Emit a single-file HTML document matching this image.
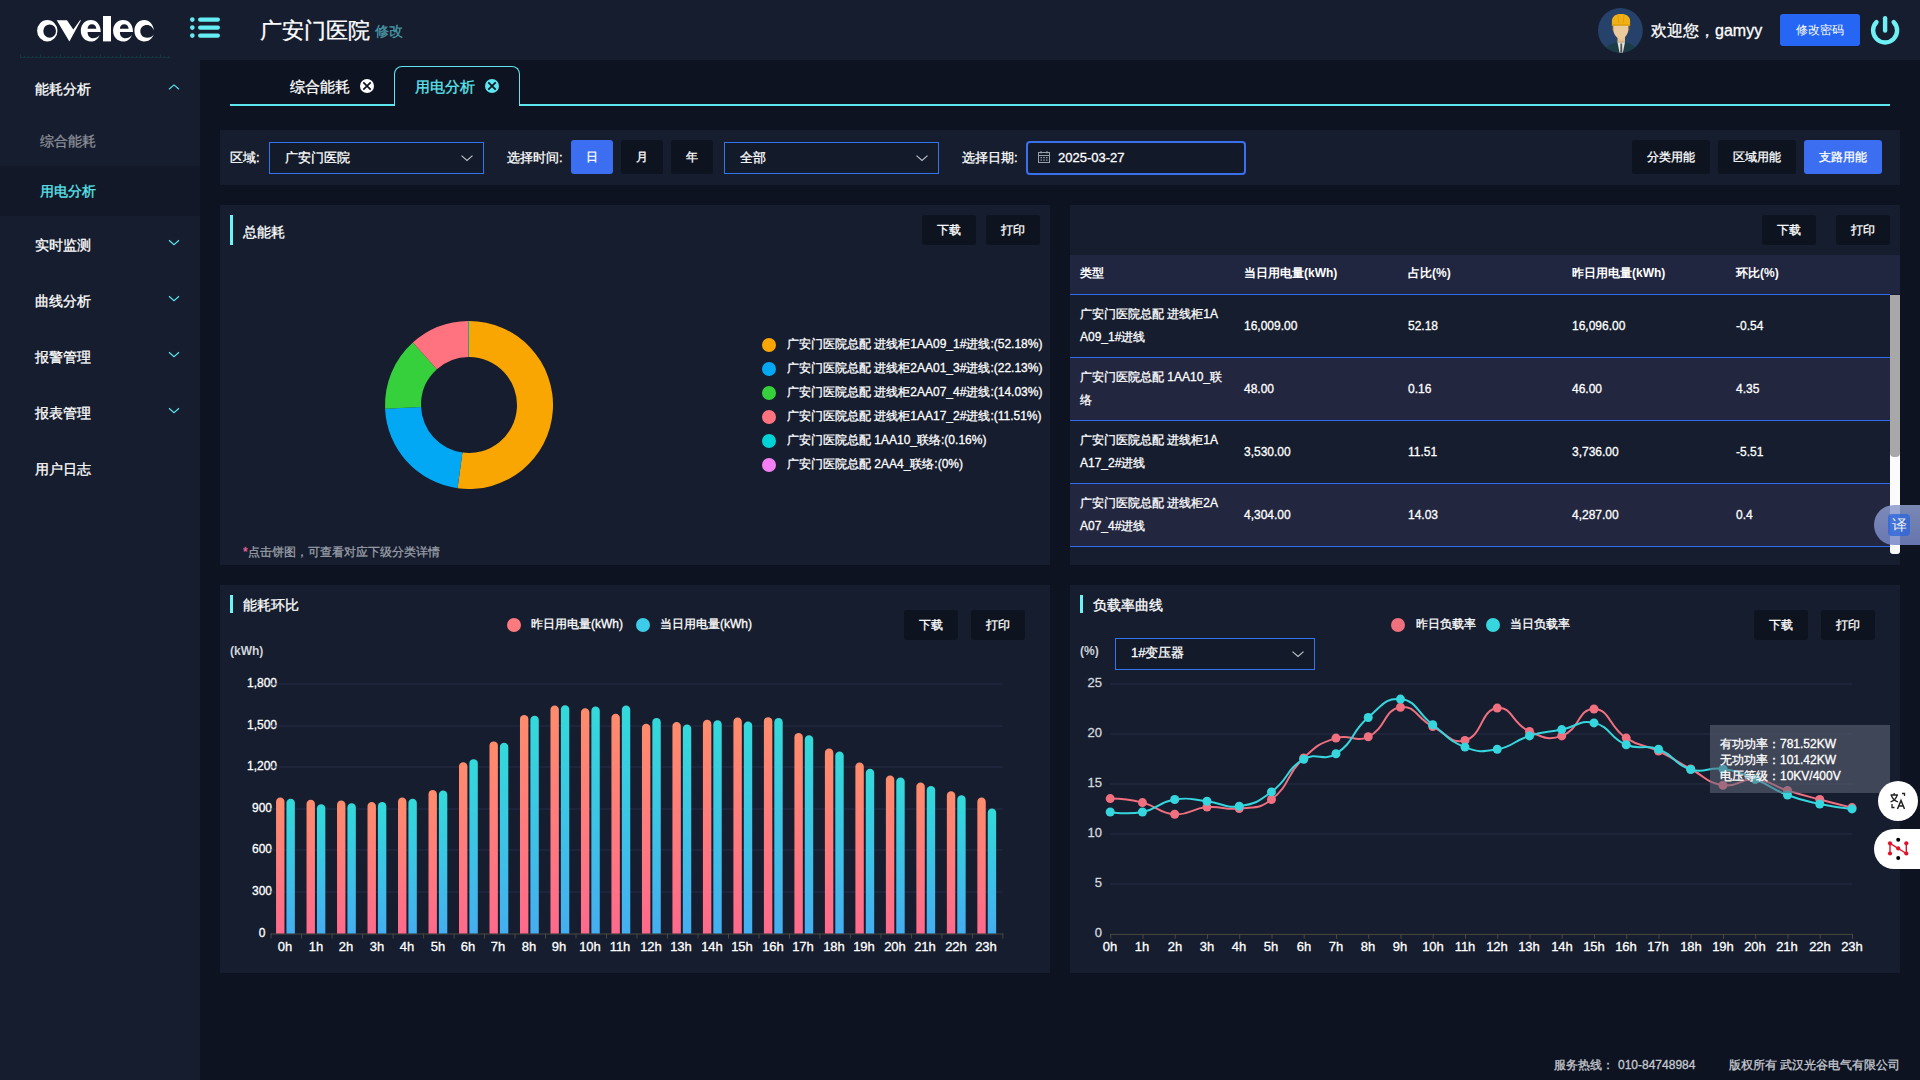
<!DOCTYPE html><html><head><meta charset="utf-8"><style>
*{margin:0;padding:0;box-sizing:border-box}
html,body{width:1920px;height:1080px;overflow:hidden;background:#0d1321;font-family:"Liberation Sans",sans-serif;color:#fff}
.t,.btn{-webkit-text-stroke:0.3px currentColor}
.a{position:absolute}
.t{position:absolute;white-space:nowrap;line-height:1}
.btn{position:absolute;background:#0e1320;border-radius:3px;color:#fff;font-size:12px;display:flex;align-items:center;justify-content:center}
.sel{position:absolute;border:1px solid #3474ee;background:#131a2a}
.panel{position:absolute;background:#151d2e}
</style></head><body>

<div class="a" style="left:0;top:0;width:1920px;height:60px;background:#161d2e"></div>
<div class="a" style="left:0;top:60px;width:200px;height:1020px;background:#161d2e"></div>
<svg class="a" style="left:30px;top:10px" width="140" height="40" viewBox="30 10 140 40">
<g fill="#fff" fill-rule="evenodd">
<path d="M47.3 20 A10.2 10.7 0 1 0 47.3 41.4 A10.2 10.7 0 1 0 47.3 20 Z M49.65 24.4 A6.35 6.65 0 1 1 49.65 37.7 A6.35 6.65 0 1 1 49.65 24.4 Z"/>
<path d="M56.7 20.3 L67 20.3 L73.3 29.5 L80 20.3 L81 20.3 L69.4 41.4 Z"/>
<path d="M99.6 34.9 C98 39.3 94.5 41.5 90.8 41.5 C85 41.5 80.8 36.8 80.8 30.8 C80.8 24.8 85 20.1 90.8 20.1 C96.7 20.1 100.7 24.8 100.7 31.9 L87.6 31.9 C87.6 35.8 89.8 38.2 93 38.2 C95.6 38.2 97.8 37 99.6 34.9 Z M87.6 28.8 C87.6 26 89.4 24.2 91.95 24.2 C94.5 24.2 96.3 26 96.3 28.8 Z"/>
<rect x="103" y="16" width="8" height="25.4"/>
<path transform="translate(32.3 0)" d="M99.6 34.9 C98 39.3 94.5 41.5 90.8 41.5 C85 41.5 80.8 36.8 80.8 30.8 C80.8 24.8 85 20.1 90.8 20.1 C96.7 20.1 100.7 24.8 100.7 31.9 L87.6 31.9 C87.6 35.8 89.8 38.2 93 38.2 C95.6 38.2 97.8 37 99.6 34.9 Z M87.6 28.8 C87.6 26 89.4 24.2 91.95 24.2 C94.5 24.2 96.3 26 96.3 28.8 Z"/>
<path d="M153.9 30.6 C153.4 24.3 149.4 20.1 144.2 20.1 C138.6 20.1 134.4 24.8 134.4 30.8 C134.4 36.8 138.6 41.5 144.2 41.5 C148.6 41.5 152.5 38.7 153.6 34.5 C152.3 36.6 150 37.8 147.2 37.8 C143.2 37.8 140.3 35 140.3 31.3 C140.3 27.6 143.2 24.9 147 24.9 C150.3 24.9 153 27.2 153.9 30.6 Z"/>
</g></svg>
<svg class="a" style="left:0;top:50px" width="180" height="10" viewBox="0 50 180 10"><g fill="#15343e"><rect x="20" y="57" width="150" height="1"/><rect x="20.0" y="54" width="1" height="3"/><rect x="24.0" y="56" width="1" height="1"/><rect x="28.0" y="56" width="1" height="1"/><rect x="32.0" y="56" width="1" height="1"/><rect x="36.0" y="56" width="1" height="1"/><rect x="40.0" y="54" width="1" height="3"/><rect x="44.0" y="56" width="1" height="1"/><rect x="48.0" y="56" width="1" height="1"/><rect x="52.0" y="56" width="1" height="1"/><rect x="56.0" y="56" width="1" height="1"/><rect x="60.0" y="54" width="1" height="3"/><rect x="64.0" y="56" width="1" height="1"/><rect x="68.0" y="56" width="1" height="1"/><rect x="72.0" y="56" width="1" height="1"/><rect x="76.0" y="56" width="1" height="1"/><rect x="80.0" y="54" width="1" height="3"/><rect x="84.0" y="56" width="1" height="1"/><rect x="88.0" y="56" width="1" height="1"/><rect x="92.0" y="56" width="1" height="1"/><rect x="96.0" y="56" width="1" height="1"/><rect x="100.0" y="54" width="1" height="3"/><rect x="104.0" y="56" width="1" height="1"/><rect x="108.0" y="56" width="1" height="1"/><rect x="112.0" y="56" width="1" height="1"/><rect x="116.0" y="56" width="1" height="1"/><rect x="120.0" y="54" width="1" height="3"/><rect x="124.0" y="56" width="1" height="1"/><rect x="128.0" y="56" width="1" height="1"/><rect x="132.0" y="56" width="1" height="1"/><rect x="136.0" y="56" width="1" height="1"/><rect x="140.0" y="54" width="1" height="3"/><rect x="144.0" y="56" width="1" height="1"/><rect x="148.0" y="56" width="1" height="1"/><rect x="152.0" y="56" width="1" height="1"/><rect x="156.0" y="56" width="1" height="1"/><rect x="160.0" y="54" width="1" height="3"/><rect x="164.0" y="56" width="1" height="1"/><rect x="168.0" y="56" width="1" height="1"/></g></svg>
<svg class="a" style="left:188px;top:16px" width="36" height="24" viewBox="188 16 36 24"><g fill="#64edf3">
<circle cx="192.3" cy="19.6" r="2.3"/><circle cx="192.3" cy="27.6" r="2.3"/><circle cx="192.3" cy="35.6" r="2.3"/>
<rect x="198" y="17.4" width="22" height="4.4" rx="2.2"/><rect x="198" y="25.4" width="22" height="4.4" rx="2.2"/><rect x="198" y="33.4" width="22" height="4.4" rx="2.2"/>
</g></svg>
<div class="t" style="left:260px;top:20px;font-size:22px;color:#fff">广安门医院</div>
<div class="t" style="left:375px;top:24px;font-size:14px;color:#4a9ba8">修改</div>
<svg class="a" style="left:1597px;top:8px" width="46" height="46" viewBox="0 0 46 46">
<defs><clipPath id="avc"><circle cx="23.4" cy="22.4" r="22.4"/></clipPath></defs>
<circle cx="23.4" cy="22.4" r="22.4" fill="#26426a"/>
<g clip-path="url(#avc)">
<path d="M2 46 C6 39 14 35.5 20.5 34.2 L28 34.2 C34 35.5 41 39 45 46 Z" fill="#1c3d48"/>
<path d="M20.5 34.2 L28 34.2 L25.6 46 L22.8 46 Z" fill="#e4e4e4"/>
<path d="M23.4 35.5 L25.1 35.5 L25.3 46 L23.2 46 Z" fill="#58534a"/>
<rect x="20.5" y="29" width="7.5" height="5.4" fill="#e6c592"/>
<path d="M20.5 33.4 L28 33.4" stroke="#c9a878" stroke-width="0.6"/>
<rect x="15" y="17.5" width="2" height="5" fill="#6a5a46"/><rect x="30.6" y="17.5" width="2" height="5" fill="#6a5a46"/>
<path d="M16.3 17.3 L31.3 17.3 L31.3 22 C31.3 26 27.5 30.9 23.8 30.9 C20 30.9 16.3 26 16.3 22 Z" fill="#ebcb9c"/>
<path d="M14.9 17.6 L14.9 13 C14.9 8.5 18.5 5.9 24 5.9 C29.5 5.9 33.1 8.5 33.1 13 L33.1 17.6 Z" fill="#f0b016"/>
<path d="M21 6.6 L21.8 15 M27 6.6 L26.2 15" stroke="#dc9c0a" stroke-width="0.8" fill="none"/>
<rect x="14.9" y="16" width="18.2" height="1.6" fill="#e2a20c"/>
</g></svg>
<div class="t" style="left:1651px;top:23px;font-size:16px;color:#fff">欢迎您，gamyy</div>
<div class="a" style="left:1780px;top:14px;width:80px;height:32px;background:#2566f5;border-radius:3px;color:#fff;font-size:12px;display:flex;align-items:center;justify-content:center">修改密码</div>
<svg class="a" style="left:1866px;top:10px" width="38" height="40" viewBox="1866 10 38 40"><g fill="none" stroke="#6ef0f4" stroke-width="4.4" stroke-linecap="round">
<path d="M1876.5 22.1 A12 12 0 1 0 1893.7 22.1"/><path d="M1885.1 18.2 L1885.1 30.6"/></g></svg>
<div class="a" style="left:0;top:166px;width:200px;height:50px;background:#121828"></div>
<div class="t" style="left:35px;top:82px;font-size:14px;color:#fff">能耗分析</div>
<svg class="a" style="left:166px;top:82px" width="16" height="10" viewBox="0 0 16 10"><path d="M3 7.3 L8 2.9 L13 7.3" fill="none" stroke="#5ee6ee" stroke-width="1.15"/></svg>
<div class="t" style="left:40px;top:134px;font-size:14px;color:#8c9099">综合能耗</div>
<div class="t" style="left:40px;top:184px;font-size:14px;color:#5ee6ee">用电分析</div>
<div class="t" style="left:35px;top:238px;font-size:14px;color:#fff">实时监测</div>
<svg class="a" style="left:166px;top:237px" width="16" height="10" viewBox="0 0 16 10"><path d="M3 3.2 L8 7.7 L13 3.2" fill="none" stroke="#5ee6ee" stroke-width="1.15"/></svg>
<div class="t" style="left:35px;top:294px;font-size:14px;color:#fff">曲线分析</div>
<svg class="a" style="left:166px;top:293px" width="16" height="10" viewBox="0 0 16 10"><path d="M3 3.2 L8 7.7 L13 3.2" fill="none" stroke="#5ee6ee" stroke-width="1.15"/></svg>
<div class="t" style="left:35px;top:350px;font-size:14px;color:#fff">报警管理</div>
<svg class="a" style="left:166px;top:349px" width="16" height="10" viewBox="0 0 16 10"><path d="M3 3.2 L8 7.7 L13 3.2" fill="none" stroke="#5ee6ee" stroke-width="1.15"/></svg>
<div class="t" style="left:35px;top:406px;font-size:14px;color:#fff">报表管理</div>
<svg class="a" style="left:166px;top:405px" width="16" height="10" viewBox="0 0 16 10"><path d="M3 3.2 L8 7.7 L13 3.2" fill="none" stroke="#5ee6ee" stroke-width="1.15"/></svg>
<div class="t" style="left:35px;top:462px;font-size:14px;color:#fff">用户日志</div>
<div class="a" style="left:230px;top:104px;width:165px;height:2px;background:#5ee6ee"></div>
<div class="a" style="left:519px;top:104px;width:1371px;height:2px;background:#5ee6ee"></div>
<div class="a" style="left:394px;top:66px;width:126px;height:40px;border:1.5px solid #5ee6ee;border-bottom:none;border-radius:8px 8px 0 0;background:#0d1321"></div>
<div class="t" style="left:290px;top:79px;font-size:15px;color:#fff">综合能耗</div>
<svg class="a" style="left:359px;top:78px" width="16" height="16" viewBox="0 0 16 16"><circle cx="8" cy="8" r="7" fill="#fff"/><path d="M4.3 4.3 L11.7 11.7 M11.7 4.3 L4.3 11.7" stroke="#0d1321" stroke-width="1.7"/></svg>
<div class="t" style="left:415px;top:79px;font-size:15px;color:#5ee6ee">用电分析</div>
<svg class="a" style="left:484px;top:78px" width="16" height="16" viewBox="0 0 16 16"><circle cx="8" cy="8" r="7" fill="#5ee6ee"/><path d="M4.3 4.3 L11.7 11.7 M11.7 4.3 L4.3 11.7" stroke="#0d1321" stroke-width="1.7"/></svg>
<div class="panel" style="left:220px;top:130px;width:1680px;height:55px"></div>
<div class="t" style="left:230px;top:151px;font-size:13px;color:#fff">区域:</div>
<div class="sel" style="left:269px;top:142px;width:215px;height:32px"></div>
<div class="t" style="left:285px;top:151px;font-size:13px;color:#fff">广安门医院</div>
<svg class="a" style="left:459px;top:153px" width="15" height="9" viewBox="0 0 15 9"><path d="M2.5 2.6 L8 7.4 L13.5 2.6" fill="none" stroke="#c0c4cc" stroke-width="1.1"/></svg>
<div class="t" style="left:507px;top:151px;font-size:13px;color:#fff">选择时间:</div>
<div class="btn" style="left:571px;top:140px;width:42px;height:34px;background:#3b6ef0;font-size:12px">日</div>
<div class="btn" style="left:621px;top:140px;width:42px;height:34px;background:#0e1320;font-size:12px">月</div>
<div class="btn" style="left:671px;top:140px;width:42px;height:34px;background:#0e1320;font-size:12px">年</div>
<div class="sel" style="left:724px;top:142px;width:215px;height:32px"></div>
<div class="t" style="left:740px;top:151px;font-size:13px;color:#fff">全部</div>
<svg class="a" style="left:914px;top:153px" width="15" height="9" viewBox="0 0 15 9"><path d="M2.5 2.6 L8 7.4 L13.5 2.6" fill="none" stroke="#c0c4cc" stroke-width="1.1"/></svg>
<div class="t" style="left:962px;top:151px;font-size:13px;color:#fff">选择日期:</div>
<div class="a" style="left:1026px;top:141px;width:220px;height:34px;border:2px solid #3a70ee;border-radius:4px;background:#121929"></div>
<svg class="a" style="left:1037px;top:150px" width="14" height="14" viewBox="0 0 14 14"><g fill="none" stroke="#9aa0aa" stroke-width="1"><rect x="1.5" y="2.5" width="11" height="10"/><path d="M1.5 5.5 H12.5 M4 1 V3.5 M10 1 V3.5"/></g><g fill="#9aa0aa"><rect x="3.5" y="7" width="1.5" height="1.2"/><rect x="6.3" y="7" width="1.5" height="1.2"/><rect x="9" y="7" width="1.5" height="1.2"/><rect x="3.5" y="9.5" width="1.5" height="1.2"/><rect x="6.3" y="9.5" width="1.5" height="1.2"/><rect x="9" y="9.5" width="1.5" height="1.2"/></g></svg>
<div class="t" style="left:1058px;top:151px;font-size:13px;color:#fff">2025-03-27</div>
<div class="btn" style="left:1632px;top:140px;width:78px;height:34px;background:#0e1320;font-size:12px">分类用能</div>
<div class="btn" style="left:1718px;top:140px;width:78px;height:34px;background:#0e1320;font-size:12px">区域用能</div>
<div class="btn" style="left:1804px;top:140px;width:78px;height:34px;background:#3b6ef0;font-size:12px">支路用能</div>
<div class="panel" style="left:220px;top:205px;width:830px;height:360px"></div>
<div class="panel" style="left:1070px;top:205px;width:830px;height:360px"></div>
<div class="panel" style="left:220px;top:585px;width:830px;height:388px"></div>
<div class="panel" style="left:1070px;top:585px;width:830px;height:388px"></div>
<div class="a" style="left:230px;top:215px;width:3px;height:30px;background:#6ef2f6"></div>
<div class="t" style="left:243px;top:225px;font-size:14px;color:#fff">总能耗</div>
<div class="btn" style="left:922px;top:215px;width:54px;height:30px;background:#0e1320;font-size:12px">下载</div>
<div class="btn" style="left:986px;top:215px;width:54px;height:30px;background:#0e1320;font-size:12px">打印</div>
<svg class="a" style="left:0;top:0" width="1920" height="1080" viewBox="0 0 1920 1080"><path d="M469.00 321.00 A84 84 0 1 1 457.53 488.21 L462.45 452.55 A48 48 0 1 0 469.00 357.00 Z" fill="#f9a602"/><path d="M457.53 488.21 A84 84 0 0 1 385.08 408.64 L421.05 407.08 A48 48 0 0 0 462.45 452.55 Z" fill="#03a8f4"/><path d="M385.08 408.64 A84 84 0 0 1 412.82 342.55 L436.90 369.32 A48 48 0 0 0 421.05 407.08 Z" fill="#36d03d"/><path d="M412.82 342.55 A84 84 0 0 1 468.21 321.00 L468.55 357.00 A48 48 0 0 0 436.90 369.32 Z" fill="#ff7380"/><path d="M468.21 321.00 A84 84 0 0 1 469.05 321.00 L469.03 357.00 A48 48 0 0 0 468.55 357.00 Z" fill="#00d2d6"/></svg>
<div class="a" style="left:762px;top:338px;width:14px;height:14px;border-radius:50%;background:#f9a602"></div>
<div class="t" style="left:787px;top:338px;font-size:12px;color:#fff">广安门医院总配 进线柜1AA09_1#进线:(52.18%)</div>
<div class="a" style="left:762px;top:362px;width:14px;height:14px;border-radius:50%;background:#03a8f4"></div>
<div class="t" style="left:787px;top:362px;font-size:12px;color:#fff">广安门医院总配 进线柜2AA01_3#进线:(22.13%)</div>
<div class="a" style="left:762px;top:386px;width:14px;height:14px;border-radius:50%;background:#36d03d"></div>
<div class="t" style="left:787px;top:386px;font-size:12px;color:#fff">广安门医院总配 进线柜2AA07_4#进线:(14.03%)</div>
<div class="a" style="left:762px;top:410px;width:14px;height:14px;border-radius:50%;background:#ff7380"></div>
<div class="t" style="left:787px;top:410px;font-size:12px;color:#fff">广安门医院总配 进线柜1AA17_2#进线:(11.51%)</div>
<div class="a" style="left:762px;top:434px;width:14px;height:14px;border-radius:50%;background:#00d2d6"></div>
<div class="t" style="left:787px;top:434px;font-size:12px;color:#fff">广安门医院总配 1AA10_联络:(0.16%)</div>
<div class="a" style="left:762px;top:458px;width:14px;height:14px;border-radius:50%;background:#f47ff4"></div>
<div class="t" style="left:787px;top:458px;font-size:12px;color:#fff">广安门医院总配 2AA4_联络:(0%)</div>
<div class="t" style="left:243px;top:546px;font-size:12px;color:#9a9ea8"><span style="color:#f0649a">*</span>点击饼图，可查看对应下级分类详情</div>
<div class="btn" style="left:1762px;top:215px;width:54px;height:30px;background:#0e1320;font-size:12px">下载</div>
<div class="btn" style="left:1836px;top:215px;width:54px;height:30px;background:#0e1320;font-size:12px">打印</div>
<div class="a" style="left:1070px;top:255px;width:830px;height:39px;background:#20263f"></div>
<div class="t" style="left:1080px;top:267px;font-size:12px;font-weight:bold;-webkit-text-stroke:0;color:#fff">类型</div>
<div class="t" style="left:1244px;top:267px;font-size:12px;font-weight:bold;-webkit-text-stroke:0;color:#fff">当日用电量(kWh)</div>
<div class="t" style="left:1408px;top:267px;font-size:12px;font-weight:bold;-webkit-text-stroke:0;color:#fff">占比(%)</div>
<div class="t" style="left:1572px;top:267px;font-size:12px;font-weight:bold;-webkit-text-stroke:0;color:#fff">昨日用电量(kWh)</div>
<div class="t" style="left:1736px;top:267px;font-size:12px;font-weight:bold;-webkit-text-stroke:0;color:#fff">环比(%)</div>
<div class="a" style="left:1070px;top:294px;width:820px;height:1px;background:#306cf0"></div>
<div class="a" style="left:1070px;top:295px;width:820px;height:62px;background:#151d2e"></div>
<div class="a" style="left:1070px;top:357px;width:820px;height:1px;background:#306cf0"></div>
<div class="t" style="left:1080px;top:308px;font-size:12px;color:#fff">广安门医院总配 进线柜1A</div>
<div class="t" style="left:1080px;top:331px;font-size:12px;color:#fff">A09_1#进线</div>
<div class="t" style="left:1244px;top:320px;font-size:12px;color:#fff">16,009.00</div>
<div class="t" style="left:1408px;top:320px;font-size:12px;color:#fff">52.18</div>
<div class="t" style="left:1572px;top:320px;font-size:12px;color:#fff">16,096.00</div>
<div class="t" style="left:1736px;top:320px;font-size:12px;color:#fff">-0.54</div>
<div class="a" style="left:1070px;top:358px;width:820px;height:62px;background:#22263f"></div>
<div class="a" style="left:1070px;top:420px;width:820px;height:1px;background:#306cf0"></div>
<div class="t" style="left:1080px;top:371px;font-size:12px;color:#fff">广安门医院总配 1AA10_联</div>
<div class="t" style="left:1080px;top:394px;font-size:12px;color:#fff">络</div>
<div class="t" style="left:1244px;top:383px;font-size:12px;color:#fff">48.00</div>
<div class="t" style="left:1408px;top:383px;font-size:12px;color:#fff">0.16</div>
<div class="t" style="left:1572px;top:383px;font-size:12px;color:#fff">46.00</div>
<div class="t" style="left:1736px;top:383px;font-size:12px;color:#fff">4.35</div>
<div class="a" style="left:1070px;top:421px;width:820px;height:62px;background:#151d2e"></div>
<div class="a" style="left:1070px;top:483px;width:820px;height:1px;background:#306cf0"></div>
<div class="t" style="left:1080px;top:434px;font-size:12px;color:#fff">广安门医院总配 进线柜1A</div>
<div class="t" style="left:1080px;top:457px;font-size:12px;color:#fff">A17_2#进线</div>
<div class="t" style="left:1244px;top:446px;font-size:12px;color:#fff">3,530.00</div>
<div class="t" style="left:1408px;top:446px;font-size:12px;color:#fff">11.51</div>
<div class="t" style="left:1572px;top:446px;font-size:12px;color:#fff">3,736.00</div>
<div class="t" style="left:1736px;top:446px;font-size:12px;color:#fff">-5.51</div>
<div class="a" style="left:1070px;top:484px;width:820px;height:62px;background:#22263f"></div>
<div class="a" style="left:1070px;top:546px;width:820px;height:1px;background:#306cf0"></div>
<div class="t" style="left:1080px;top:497px;font-size:12px;color:#fff">广安门医院总配 进线柜2A</div>
<div class="t" style="left:1080px;top:520px;font-size:12px;color:#fff">A07_4#进线</div>
<div class="t" style="left:1244px;top:509px;font-size:12px;color:#fff">4,304.00</div>
<div class="t" style="left:1408px;top:509px;font-size:12px;color:#fff">14.03</div>
<div class="t" style="left:1572px;top:509px;font-size:12px;color:#fff">4,287.00</div>
<div class="t" style="left:1736px;top:509px;font-size:12px;color:#fff">0.4</div>
<div class="a" style="left:1890px;top:295px;width:10px;height:259px;background:#fbfbfb;border-radius:0 0 3px 3px"></div>
<div class="a" style="left:1890px;top:295px;width:10px;height:162px;background:#a8a8a8;border-radius:0 0 4px 4px"></div>
<div class="a" style="left:1874px;top:505px;width:50px;height:40px;border-radius:20px 0 0 20px;background:linear-gradient(#8c9ccc,#7686c8);opacity:0.85"></div>
<div class="a" style="left:1888px;top:514px;width:22px;height:22px;border-radius:4px;background:rgba(40,100,220,0.75);color:#eee;font-size:15px;display:flex;align-items:center;justify-content:center">译</div>
<div class="a" style="left:230px;top:595px;width:3px;height:18px;background:#6ef2f6"></div>
<div class="t" style="left:243px;top:598px;font-size:14px;color:#fff">能耗环比</div>
<div class="a" style="left:507px;top:618px;width:14px;height:14px;border-radius:50%;background:#ff7a7e"></div>
<div class="t" style="left:531px;top:618px;font-size:12px;color:#fff">昨日用电量(kWh)</div>
<div class="a" style="left:636px;top:618px;width:14px;height:14px;border-radius:50%;background:#3ccbe8"></div>
<div class="t" style="left:660px;top:618px;font-size:12px;color:#fff">当日用电量(kWh)</div>
<div class="btn" style="left:904px;top:610px;width:54px;height:30px;background:#0e1320;font-size:12px">下载</div>
<div class="btn" style="left:971px;top:610px;width:54px;height:30px;background:#0e1320;font-size:12px">打印</div>
<div class="t" style="left:230px;top:645px;font-size:12px;font-weight:bold;-webkit-text-stroke:0;color:#d0d3da">(kWh)</div>
<div class="t" style="left:222px;width:80px;text-align:center;top:677px;font-size:12px;color:#fff">1,800</div>
<div class="t" style="left:222px;width:80px;text-align:center;top:719px;font-size:12px;color:#fff">1,500</div>
<div class="t" style="left:222px;width:80px;text-align:center;top:760px;font-size:12px;color:#fff">1,200</div>
<div class="t" style="left:222px;width:80px;text-align:center;top:802px;font-size:12px;color:#fff">900</div>
<div class="t" style="left:222px;width:80px;text-align:center;top:843px;font-size:12px;color:#fff">600</div>
<div class="t" style="left:222px;width:80px;text-align:center;top:885px;font-size:12px;color:#fff">300</div>
<div class="t" style="left:222px;width:80px;text-align:center;top:927px;font-size:12px;color:#fff">0</div>
<div class="t" style="left:265px;width:40px;text-align:center;top:940px;font-size:13px;color:#fff">0h</div>
<div class="t" style="left:296px;width:40px;text-align:center;top:940px;font-size:13px;color:#fff">1h</div>
<div class="t" style="left:326px;width:40px;text-align:center;top:940px;font-size:13px;color:#fff">2h</div>
<div class="t" style="left:357px;width:40px;text-align:center;top:940px;font-size:13px;color:#fff">3h</div>
<div class="t" style="left:387px;width:40px;text-align:center;top:940px;font-size:13px;color:#fff">4h</div>
<div class="t" style="left:418px;width:40px;text-align:center;top:940px;font-size:13px;color:#fff">5h</div>
<div class="t" style="left:448px;width:40px;text-align:center;top:940px;font-size:13px;color:#fff">6h</div>
<div class="t" style="left:478px;width:40px;text-align:center;top:940px;font-size:13px;color:#fff">7h</div>
<div class="t" style="left:509px;width:40px;text-align:center;top:940px;font-size:13px;color:#fff">8h</div>
<div class="t" style="left:539px;width:40px;text-align:center;top:940px;font-size:13px;color:#fff">9h</div>
<div class="t" style="left:570px;width:40px;text-align:center;top:940px;font-size:13px;color:#fff">10h</div>
<div class="t" style="left:600px;width:40px;text-align:center;top:940px;font-size:13px;color:#fff">11h</div>
<div class="t" style="left:631px;width:40px;text-align:center;top:940px;font-size:13px;color:#fff">12h</div>
<div class="t" style="left:661px;width:40px;text-align:center;top:940px;font-size:13px;color:#fff">13h</div>
<div class="t" style="left:692px;width:40px;text-align:center;top:940px;font-size:13px;color:#fff">14h</div>
<div class="t" style="left:722px;width:40px;text-align:center;top:940px;font-size:13px;color:#fff">15h</div>
<div class="t" style="left:753px;width:40px;text-align:center;top:940px;font-size:13px;color:#fff">16h</div>
<div class="t" style="left:783px;width:40px;text-align:center;top:940px;font-size:13px;color:#fff">17h</div>
<div class="t" style="left:814px;width:40px;text-align:center;top:940px;font-size:13px;color:#fff">18h</div>
<div class="t" style="left:844px;width:40px;text-align:center;top:940px;font-size:13px;color:#fff">19h</div>
<div class="t" style="left:875px;width:40px;text-align:center;top:940px;font-size:13px;color:#fff">20h</div>
<div class="t" style="left:905px;width:40px;text-align:center;top:940px;font-size:13px;color:#fff">21h</div>
<div class="t" style="left:936px;width:40px;text-align:center;top:940px;font-size:13px;color:#fff">22h</div>
<div class="t" style="left:966px;width:40px;text-align:center;top:940px;font-size:13px;color:#fff">23h</div>
<svg class="a" style="left:0;top:0" width="1920" height="1080" viewBox="0 0 1920 1080"><defs><linearGradient id="gp" x1="0" y1="0" x2="0" y2="1"><stop offset="0" stop-color="#ff8c6c"/><stop offset="1" stop-color="#ff6a8c"/></linearGradient><linearGradient id="gc" x1="0" y1="0" x2="0" y2="1"><stop offset="0" stop-color="#33dada"/><stop offset="1" stop-color="#45aef0"/></linearGradient></defs><rect x="270.6" y="683.5" width="731.8" height="1" fill="#282e48"/><rect x="270.6" y="725.5" width="731.8" height="1" fill="#282e48"/><rect x="270.6" y="766.5" width="731.8" height="1" fill="#282e48"/><rect x="270.6" y="808.5" width="731.8" height="1" fill="#282e48"/><rect x="270.6" y="849.5" width="731.8" height="1" fill="#282e48"/><rect x="270.6" y="891.5" width="731.8" height="1" fill="#282e48"/><rect x="270.6" y="933.5" width="732.8" height="1" fill="#4a4940"/><rect x="1002.4" y="933.5" width="1" height="5" fill="#4a4940"/><path d="M276.05 933.50 L276.05 801.72 A4.2 4.2 0 0 1 284.45 801.72 L284.45 933.50 Z" fill="url(#gp)"/><path d="M286.45 933.50 L286.45 802.97 A4.2 4.2 0 0 1 294.85 802.97 L294.85 933.50 Z" fill="url(#gc)"/><rect x="270.6" y="933.5" width="1" height="5" fill="#4a4940"/><path d="M306.54 933.50 L306.54 803.94 A4.2 4.2 0 0 1 314.94 803.94 L314.94 933.50 Z" fill="url(#gp)"/><path d="M316.94 933.50 L316.94 808.38 A4.2 4.2 0 0 1 325.34 808.38 L325.34 933.50 Z" fill="url(#gc)"/><rect x="301.1" y="933.5" width="1" height="5" fill="#4a4940"/><path d="M337.03 933.50 L337.03 804.77 A4.2 4.2 0 0 1 345.43 804.77 L345.43 933.50 Z" fill="url(#gp)"/><path d="M347.43 933.50 L347.43 807.41 A4.2 4.2 0 0 1 355.83 807.41 L355.83 933.50 Z" fill="url(#gc)"/><rect x="331.6" y="933.5" width="1" height="5" fill="#4a4940"/><path d="M367.52 933.50 L367.52 806.16 A4.2 4.2 0 0 1 375.92 806.16 L375.92 933.50 Z" fill="url(#gp)"/><path d="M377.92 933.50 L377.92 806.16 A4.2 4.2 0 0 1 386.32 806.16 L386.32 933.50 Z" fill="url(#gc)"/><rect x="362.1" y="933.5" width="1" height="5" fill="#4a4940"/><path d="M398.01 933.50 L398.01 801.72 A4.2 4.2 0 0 1 406.41 801.72 L406.41 933.50 Z" fill="url(#gp)"/><path d="M408.41 933.50 L408.41 802.97 A4.2 4.2 0 0 1 416.81 802.97 L416.81 933.50 Z" fill="url(#gc)"/><rect x="392.6" y="933.5" width="1" height="5" fill="#4a4940"/><path d="M428.50 933.50 L428.50 794.24 A4.2 4.2 0 0 1 436.90 794.24 L436.90 933.50 Z" fill="url(#gp)"/><path d="M438.90 933.50 L438.90 794.65 A4.2 4.2 0 0 1 447.30 794.65 L447.30 933.50 Z" fill="url(#gc)"/><rect x="423.1" y="933.5" width="1" height="5" fill="#4a4940"/><path d="M459.00 933.50 L459.00 766.38 A4.2 4.2 0 0 1 467.40 766.38 L467.40 933.50 Z" fill="url(#gp)"/><path d="M469.40 933.50 L469.40 763.33 A4.2 4.2 0 0 1 477.80 763.33 L477.80 933.50 Z" fill="url(#gc)"/><rect x="453.6" y="933.5" width="1" height="5" fill="#4a4940"/><path d="M489.49 933.50 L489.49 745.59 A4.2 4.2 0 0 1 497.89 745.59 L497.89 933.50 Z" fill="url(#gp)"/><path d="M499.89 933.50 L499.89 746.97 A4.2 4.2 0 0 1 508.29 746.97 L508.29 933.50 Z" fill="url(#gc)"/><rect x="484.0" y="933.5" width="1" height="5" fill="#4a4940"/><path d="M519.98 933.50 L519.98 719.11 A4.2 4.2 0 0 1 528.38 719.11 L528.38 933.50 Z" fill="url(#gp)"/><path d="M530.38 933.50 L530.38 719.94 A4.2 4.2 0 0 1 538.78 719.94 L538.78 933.50 Z" fill="url(#gc)"/><rect x="514.5" y="933.5" width="1" height="5" fill="#4a4940"/><path d="M550.47 933.50 L550.47 709.82 A4.2 4.2 0 0 1 558.87 709.82 L558.87 933.50 Z" fill="url(#gp)"/><path d="M560.87 933.50 L560.87 709.41 A4.2 4.2 0 0 1 569.27 709.41 L569.27 933.50 Z" fill="url(#gc)"/><rect x="545.0" y="933.5" width="1" height="5" fill="#4a4940"/><path d="M580.96 933.50 L580.96 712.46 A4.2 4.2 0 0 1 589.36 712.46 L589.36 933.50 Z" fill="url(#gp)"/><path d="M591.36 933.50 L591.36 710.79 A4.2 4.2 0 0 1 599.76 710.79 L599.76 933.50 Z" fill="url(#gc)"/><rect x="575.5" y="933.5" width="1" height="5" fill="#4a4940"/><path d="M611.45 933.50 L611.45 717.86 A4.2 4.2 0 0 1 619.85 717.86 L619.85 933.50 Z" fill="url(#gp)"/><path d="M621.85 933.50 L621.85 709.82 A4.2 4.2 0 0 1 630.25 709.82 L630.25 933.50 Z" fill="url(#gc)"/><rect x="606.0" y="933.5" width="1" height="5" fill="#4a4940"/><path d="M641.95 933.50 L641.95 727.98 A4.2 4.2 0 0 1 650.35 727.98 L650.35 933.50 Z" fill="url(#gp)"/><path d="M652.35 933.50 L652.35 722.16 A4.2 4.2 0 0 1 660.75 722.16 L660.75 933.50 Z" fill="url(#gc)"/><rect x="636.5" y="933.5" width="1" height="5" fill="#4a4940"/><path d="M672.44 933.50 L672.44 726.18 A4.2 4.2 0 0 1 680.84 726.18 L680.84 933.50 Z" fill="url(#gp)"/><path d="M682.84 933.50 L682.84 728.81 A4.2 4.2 0 0 1 691.24 728.81 L691.24 933.50 Z" fill="url(#gc)"/><rect x="667.0" y="933.5" width="1" height="5" fill="#4a4940"/><path d="M702.93 933.50 L702.93 723.96 A4.2 4.2 0 0 1 711.33 723.96 L711.33 933.50 Z" fill="url(#gp)"/><path d="M713.33 933.50 L713.33 724.38 A4.2 4.2 0 0 1 721.73 724.38 L721.73 933.50 Z" fill="url(#gc)"/><rect x="697.5" y="933.5" width="1" height="5" fill="#4a4940"/><path d="M733.42 933.50 L733.42 721.74 A4.2 4.2 0 0 1 741.82 721.74 L741.82 933.50 Z" fill="url(#gp)"/><path d="M743.82 933.50 L743.82 725.76 A4.2 4.2 0 0 1 752.22 725.76 L752.22 933.50 Z" fill="url(#gc)"/><rect x="728.0" y="933.5" width="1" height="5" fill="#4a4940"/><path d="M763.91 933.50 L763.91 721.33 A4.2 4.2 0 0 1 772.31 721.33 L772.31 933.50 Z" fill="url(#gp)"/><path d="M774.31 933.50 L774.31 722.16 A4.2 4.2 0 0 1 782.71 722.16 L782.71 933.50 Z" fill="url(#gc)"/><rect x="758.5" y="933.5" width="1" height="5" fill="#4a4940"/><path d="M794.40 933.50 L794.40 737.27 A4.2 4.2 0 0 1 802.80 737.27 L802.80 933.50 Z" fill="url(#gp)"/><path d="M804.80 933.50 L804.80 739.49 A4.2 4.2 0 0 1 813.20 739.49 L813.20 933.50 Z" fill="url(#gc)"/><rect x="789.0" y="933.5" width="1" height="5" fill="#4a4940"/><path d="M824.90 933.50 L824.90 752.65 A4.2 4.2 0 0 1 833.30 752.65 L833.30 933.50 Z" fill="url(#gp)"/><path d="M835.30 933.50 L835.30 755.70 A4.2 4.2 0 0 1 843.70 755.70 L843.70 933.50 Z" fill="url(#gc)"/><rect x="819.4" y="933.5" width="1" height="5" fill="#4a4940"/><path d="M855.39 933.50 L855.39 766.79 A4.2 4.2 0 0 1 863.79 766.79 L863.79 933.50 Z" fill="url(#gp)"/><path d="M865.79 933.50 L865.79 773.03 A4.2 4.2 0 0 1 874.19 773.03 L874.19 933.50 Z" fill="url(#gc)"/><rect x="849.9" y="933.5" width="1" height="5" fill="#4a4940"/><path d="M885.88 933.50 L885.88 779.68 A4.2 4.2 0 0 1 894.28 779.68 L894.28 933.50 Z" fill="url(#gp)"/><path d="M896.28 933.50 L896.28 781.76 A4.2 4.2 0 0 1 904.68 781.76 L904.68 933.50 Z" fill="url(#gc)"/><rect x="880.4" y="933.5" width="1" height="5" fill="#4a4940"/><path d="M916.37 933.50 L916.37 786.61 A4.2 4.2 0 0 1 924.77 786.61 L924.77 933.50 Z" fill="url(#gp)"/><path d="M926.77 933.50 L926.77 790.22 A4.2 4.2 0 0 1 935.17 790.22 L935.17 933.50 Z" fill="url(#gc)"/><rect x="910.9" y="933.5" width="1" height="5" fill="#4a4940"/><path d="M946.86 933.50 L946.86 795.49 A4.2 4.2 0 0 1 955.26 795.49 L955.26 933.50 Z" fill="url(#gp)"/><path d="M957.26 933.50 L957.26 799.50 A4.2 4.2 0 0 1 965.66 799.50 L965.66 933.50 Z" fill="url(#gc)"/><rect x="941.4" y="933.5" width="1" height="5" fill="#4a4940"/><path d="M977.35 933.50 L977.35 801.72 A4.2 4.2 0 0 1 985.75 801.72 L985.75 933.50 Z" fill="url(#gp)"/><path d="M987.75 933.50 L987.75 812.67 A4.2 4.2 0 0 1 996.15 812.67 L996.15 933.50 Z" fill="url(#gc)"/><rect x="971.9" y="933.5" width="1" height="5" fill="#4a4940"/></svg>
<div class="a" style="left:1080px;top:595px;width:3px;height:18px;background:#6ef2f6"></div>
<div class="t" style="left:1093px;top:598px;font-size:14px;color:#fff">负载率曲线</div>
<div class="a" style="left:1391px;top:618px;width:14px;height:14px;border-radius:50%;background:#f0707e"></div>
<div class="t" style="left:1416px;top:618px;font-size:12px;color:#fff">昨日负载率</div>
<div class="a" style="left:1486px;top:618px;width:14px;height:14px;border-radius:50%;background:#36d6de"></div>
<div class="t" style="left:1510px;top:618px;font-size:12px;color:#fff">当日负载率</div>
<div class="btn" style="left:1754px;top:610px;width:54px;height:30px;background:#0e1320;font-size:12px">下载</div>
<div class="btn" style="left:1821px;top:610px;width:54px;height:30px;background:#0e1320;font-size:12px">打印</div>
<div class="t" style="left:1080px;top:645px;font-size:12px;font-weight:bold;-webkit-text-stroke:0;color:#d0d3da">(%)</div>
<div class="sel" style="left:1115px;top:638px;width:200px;height:32px"></div>
<div class="t" style="left:1131px;top:646px;font-size:13px;color:#fff">1#变压器</div>
<svg class="a" style="left:1290px;top:649px" width="15" height="9" viewBox="0 0 15 9"><path d="M2.5 2.6 L8 7.4 L13.5 2.6" fill="none" stroke="#c0c4cc" stroke-width="1.1"/></svg>
<div class="t" style="left:1040px;width:62px;text-align:right;top:926px;font-size:13px;color:#d4d7de">0</div>
<div class="t" style="left:1040px;width:62px;text-align:right;top:876px;font-size:13px;color:#d4d7de">5</div>
<div class="t" style="left:1040px;width:62px;text-align:right;top:826px;font-size:13px;color:#d4d7de">10</div>
<div class="t" style="left:1040px;width:62px;text-align:right;top:776px;font-size:13px;color:#d4d7de">15</div>
<div class="t" style="left:1040px;width:62px;text-align:right;top:726px;font-size:13px;color:#d4d7de">20</div>
<div class="t" style="left:1040px;width:62px;text-align:right;top:676px;font-size:13px;color:#d4d7de">25</div>
<div class="t" style="left:1090px;width:40px;text-align:center;top:940px;font-size:13px;color:#fff">0h</div>
<div class="t" style="left:1122px;width:40px;text-align:center;top:940px;font-size:13px;color:#fff">1h</div>
<div class="t" style="left:1155px;width:40px;text-align:center;top:940px;font-size:13px;color:#fff">2h</div>
<div class="t" style="left:1187px;width:40px;text-align:center;top:940px;font-size:13px;color:#fff">3h</div>
<div class="t" style="left:1219px;width:40px;text-align:center;top:940px;font-size:13px;color:#fff">4h</div>
<div class="t" style="left:1251px;width:40px;text-align:center;top:940px;font-size:13px;color:#fff">5h</div>
<div class="t" style="left:1284px;width:40px;text-align:center;top:940px;font-size:13px;color:#fff">6h</div>
<div class="t" style="left:1316px;width:40px;text-align:center;top:940px;font-size:13px;color:#fff">7h</div>
<div class="t" style="left:1348px;width:40px;text-align:center;top:940px;font-size:13px;color:#fff">8h</div>
<div class="t" style="left:1380px;width:40px;text-align:center;top:940px;font-size:13px;color:#fff">9h</div>
<div class="t" style="left:1413px;width:40px;text-align:center;top:940px;font-size:13px;color:#fff">10h</div>
<div class="t" style="left:1445px;width:40px;text-align:center;top:940px;font-size:13px;color:#fff">11h</div>
<div class="t" style="left:1477px;width:40px;text-align:center;top:940px;font-size:13px;color:#fff">12h</div>
<div class="t" style="left:1509px;width:40px;text-align:center;top:940px;font-size:13px;color:#fff">13h</div>
<div class="t" style="left:1542px;width:40px;text-align:center;top:940px;font-size:13px;color:#fff">14h</div>
<div class="t" style="left:1574px;width:40px;text-align:center;top:940px;font-size:13px;color:#fff">15h</div>
<div class="t" style="left:1606px;width:40px;text-align:center;top:940px;font-size:13px;color:#fff">16h</div>
<div class="t" style="left:1638px;width:40px;text-align:center;top:940px;font-size:13px;color:#fff">17h</div>
<div class="t" style="left:1671px;width:40px;text-align:center;top:940px;font-size:13px;color:#fff">18h</div>
<div class="t" style="left:1703px;width:40px;text-align:center;top:940px;font-size:13px;color:#fff">19h</div>
<div class="t" style="left:1735px;width:40px;text-align:center;top:940px;font-size:13px;color:#fff">20h</div>
<div class="t" style="left:1767px;width:40px;text-align:center;top:940px;font-size:13px;color:#fff">21h</div>
<div class="t" style="left:1800px;width:40px;text-align:center;top:940px;font-size:13px;color:#fff">22h</div>
<div class="t" style="left:1832px;width:40px;text-align:center;top:940px;font-size:13px;color:#fff">23h</div>
<svg class="a" style="left:0;top:0" width="1920" height="1080" viewBox="0 0 1920 1080"><rect x="1110.2" y="883.5" width="741.8" height="1" fill="#282e48"/><rect x="1110.2" y="833.5" width="741.8" height="1" fill="#282e48"/><rect x="1110.2" y="783.5" width="741.8" height="1" fill="#282e48"/><rect x="1110.2" y="733.5" width="741.8" height="1" fill="#282e48"/><rect x="1110.2" y="683.5" width="741.8" height="1" fill="#282e48"/><rect x="1110.2" y="933.9" width="742.8" height="1" fill="#4a4940"/><rect x="1110.2" y="933.9" width="1" height="5" fill="#4a4940"/><rect x="1142.5" y="933.9" width="1" height="5" fill="#4a4940"/><rect x="1174.7" y="933.9" width="1" height="5" fill="#4a4940"/><rect x="1207.0" y="933.9" width="1" height="5" fill="#4a4940"/><rect x="1239.2" y="933.9" width="1" height="5" fill="#4a4940"/><rect x="1271.5" y="933.9" width="1" height="5" fill="#4a4940"/><rect x="1303.7" y="933.9" width="1" height="5" fill="#4a4940"/><rect x="1336.0" y="933.9" width="1" height="5" fill="#4a4940"/><rect x="1368.2" y="933.9" width="1" height="5" fill="#4a4940"/><rect x="1400.5" y="933.9" width="1" height="5" fill="#4a4940"/><rect x="1432.7" y="933.9" width="1" height="5" fill="#4a4940"/><rect x="1465.0" y="933.9" width="1" height="5" fill="#4a4940"/><rect x="1497.2" y="933.9" width="1" height="5" fill="#4a4940"/><rect x="1529.5" y="933.9" width="1" height="5" fill="#4a4940"/><rect x="1561.7" y="933.9" width="1" height="5" fill="#4a4940"/><rect x="1594.0" y="933.9" width="1" height="5" fill="#4a4940"/><rect x="1626.2" y="933.9" width="1" height="5" fill="#4a4940"/><rect x="1658.5" y="933.9" width="1" height="5" fill="#4a4940"/><rect x="1690.7" y="933.9" width="1" height="5" fill="#4a4940"/><rect x="1723.0" y="933.9" width="1" height="5" fill="#4a4940"/><rect x="1755.2" y="933.9" width="1" height="5" fill="#4a4940"/><rect x="1787.5" y="933.9" width="1" height="5" fill="#4a4940"/><rect x="1819.7" y="933.9" width="1" height="5" fill="#4a4940"/><rect x="1852.0" y="933.9" width="1" height="5" fill="#4a4940"/><path d="M1110.20 798.60 C1110.20 798.60 1126.76 798.78 1142.45 802.60 C1159.02 806.63 1158.28 813.15 1174.70 814.30 C1190.53 815.40 1190.64 808.57 1206.96 807.10 C1222.89 805.67 1223.38 810.37 1239.21 808.50 C1255.63 806.57 1258.92 809.34 1271.46 799.50 C1291.17 784.04 1284.95 775.76 1303.71 757.90 C1317.20 745.06 1318.56 743.79 1335.97 738.10 C1350.81 733.24 1354.53 743.36 1368.22 736.80 C1386.78 727.91 1383.12 709.97 1400.47 707.20 C1415.37 704.82 1416.05 717.92 1432.72 726.50 C1448.30 734.52 1450.95 744.40 1464.97 740.40 C1483.20 735.20 1479.99 710.50 1497.23 708.10 C1512.25 706.00 1511.74 723.76 1529.48 731.40 C1543.99 737.66 1547.64 740.79 1561.73 735.90 C1579.90 729.59 1578.13 708.46 1593.98 709.00 C1610.38 709.56 1608.32 726.41 1626.23 738.10 C1640.57 747.46 1642.84 743.60 1658.49 751.10 C1675.09 759.05 1674.44 760.38 1690.74 769.00 C1706.69 777.43 1706.09 782.50 1722.99 785.20 C1738.34 787.65 1739.44 778.00 1755.24 779.30 C1771.70 780.65 1771.21 785.40 1787.50 790.50 C1803.47 795.50 1803.57 795.21 1819.75 799.50 C1835.82 803.76 1852.00 807.60 1852.00 807.60" fill="none" stroke="#f07080" stroke-width="2"/><circle cx="1110.20" cy="798.60" r="4.5" fill="#f07080"/><circle cx="1142.45" cy="802.60" r="4.5" fill="#f07080"/><circle cx="1174.70" cy="814.30" r="4.5" fill="#f07080"/><circle cx="1206.96" cy="807.10" r="4.5" fill="#f07080"/><circle cx="1239.21" cy="808.50" r="4.5" fill="#f07080"/><circle cx="1271.46" cy="799.50" r="4.5" fill="#f07080"/><circle cx="1303.71" cy="757.90" r="4.5" fill="#f07080"/><circle cx="1335.97" cy="738.10" r="4.5" fill="#f07080"/><circle cx="1368.22" cy="736.80" r="4.5" fill="#f07080"/><circle cx="1400.47" cy="707.20" r="4.5" fill="#f07080"/><circle cx="1432.72" cy="726.50" r="4.5" fill="#f07080"/><circle cx="1464.97" cy="740.40" r="4.5" fill="#f07080"/><circle cx="1497.23" cy="708.10" r="4.5" fill="#f07080"/><circle cx="1529.48" cy="731.40" r="4.5" fill="#f07080"/><circle cx="1561.73" cy="735.90" r="4.5" fill="#f07080"/><circle cx="1593.98" cy="709.00" r="4.5" fill="#f07080"/><circle cx="1626.23" cy="738.10" r="4.5" fill="#f07080"/><circle cx="1658.49" cy="751.10" r="4.5" fill="#f07080"/><circle cx="1690.74" cy="769.00" r="4.5" fill="#f07080"/><circle cx="1722.99" cy="785.20" r="4.5" fill="#f07080"/><circle cx="1755.24" cy="779.30" r="4.5" fill="#f07080"/><circle cx="1787.50" cy="790.50" r="4.5" fill="#f07080"/><circle cx="1819.75" cy="799.50" r="4.5" fill="#f07080"/><circle cx="1852.00" cy="807.60" r="4.5" fill="#f07080"/><path d="M1110.20 812.00 C1110.20 812.00 1126.89 815.02 1142.45 812.00 C1159.14 808.77 1158.03 802.27 1174.70 799.50 C1190.28 796.92 1190.91 799.63 1206.96 801.30 C1223.16 802.98 1223.71 808.46 1239.21 806.20 C1255.97 803.76 1257.45 802.11 1271.46 791.90 C1289.70 778.61 1284.87 770.33 1303.71 759.20 C1317.13 751.28 1322.99 762.19 1335.97 753.80 C1355.24 741.34 1349.94 733.00 1368.22 717.50 C1382.19 705.65 1385.18 697.39 1400.47 699.10 C1417.43 700.99 1416.21 712.42 1432.72 724.70 C1448.47 736.42 1447.28 740.35 1464.97 747.10 C1479.54 752.65 1481.72 751.99 1497.23 749.30 C1513.98 746.39 1512.86 740.97 1529.48 735.90 C1545.11 731.12 1545.62 732.85 1561.73 729.60 C1577.88 726.35 1579.21 719.42 1593.98 722.90 C1611.46 727.02 1608.66 737.61 1626.23 744.80 C1640.91 750.81 1643.61 743.61 1658.49 749.30 C1675.87 755.96 1673.28 764.17 1690.74 769.50 C1705.54 774.02 1707.26 766.61 1722.99 769.00 C1739.51 771.51 1739.58 772.99 1755.24 779.30 C1771.84 785.99 1770.81 788.61 1787.50 795.00 C1803.07 800.96 1803.41 800.48 1819.75 804.00 C1835.66 807.43 1852.00 808.90 1852.00 808.90" fill="none" stroke="#36d6de" stroke-width="2"/><circle cx="1110.20" cy="812.00" r="4.5" fill="#36d6de"/><circle cx="1142.45" cy="812.00" r="4.5" fill="#36d6de"/><circle cx="1174.70" cy="799.50" r="4.5" fill="#36d6de"/><circle cx="1206.96" cy="801.30" r="4.5" fill="#36d6de"/><circle cx="1239.21" cy="806.20" r="4.5" fill="#36d6de"/><circle cx="1271.46" cy="791.90" r="4.5" fill="#36d6de"/><circle cx="1303.71" cy="759.20" r="4.5" fill="#36d6de"/><circle cx="1335.97" cy="753.80" r="4.5" fill="#36d6de"/><circle cx="1368.22" cy="717.50" r="4.5" fill="#36d6de"/><circle cx="1400.47" cy="699.10" r="4.5" fill="#36d6de"/><circle cx="1432.72" cy="724.70" r="4.5" fill="#36d6de"/><circle cx="1464.97" cy="747.10" r="4.5" fill="#36d6de"/><circle cx="1497.23" cy="749.30" r="4.5" fill="#36d6de"/><circle cx="1529.48" cy="735.90" r="4.5" fill="#36d6de"/><circle cx="1561.73" cy="729.60" r="4.5" fill="#36d6de"/><circle cx="1593.98" cy="722.90" r="4.5" fill="#36d6de"/><circle cx="1626.23" cy="744.80" r="4.5" fill="#36d6de"/><circle cx="1658.49" cy="749.30" r="4.5" fill="#36d6de"/><circle cx="1690.74" cy="769.50" r="4.5" fill="#36d6de"/><circle cx="1722.99" cy="769.00" r="4.5" fill="#36d6de"/><circle cx="1755.24" cy="779.30" r="4.5" fill="#36d6de"/><circle cx="1787.50" cy="795.00" r="4.5" fill="#36d6de"/><circle cx="1819.75" cy="804.00" r="4.5" fill="#36d6de"/><circle cx="1852.00" cy="808.90" r="4.5" fill="#36d6de"/></svg>
<div class="a" style="left:1710px;top:725px;width:180px;height:68px;background:rgba(98,104,122,0.55)"></div>
<div class="t" style="left:1720px;top:738px;font-size:12px;color:#fff">有功功率：781.52KW</div>
<div class="t" style="left:1720px;top:754px;font-size:12px;color:#fff">无功功率：101.42KW</div>
<div class="t" style="left:1720px;top:770px;font-size:12px;color:#fff">电压等级：10KV/400V</div>
<div class="a" style="left:1878px;top:781px;width:40px;height:40px;border-radius:50%;background:#fff"></div>
<svg class="a" style="left:1888px;top:791px" width="20" height="20" viewBox="0 0 20 20"><g fill="none" stroke="#222" stroke-width="1.3">
<path d="M2.5 4 H10 M6.2 2 V4 M3.5 4.5 C4.5 8 7 10 10 11 M9 4.5 C8 8 5.5 10 2.5 11"/>
<path d="M14 2.5 H16.5 V5"/><path d="M4 13 V16.5 H6.5"/>
<path d="M9.5 18 L13 9.5 L16.5 18 M10.8 15 H15.2" stroke-width="1.5"/></g></svg>
<div class="a" style="left:1874px;top:829px;width:50px;height:40px;border-radius:20px 0 0 20px;background:#fff"></div>
<svg class="a" style="left:1884px;top:835px" width="28" height="28" viewBox="1884 835 28 28"><g stroke="#e3102a" stroke-width="1.4" fill="none"><path d="M1890 843.3 L1890 853.5 M1890 843.3 L1906.3 853.5 M1906.3 843.3 L1906.3 853.5"/></g>
<g fill="#e3102a"><circle cx="1890" cy="843.3" r="2.1"/><circle cx="1890" cy="853.5" r="2.1"/><circle cx="1898.2" cy="848.4" r="2.1"/><circle cx="1906.3" cy="843.3" r="2.1"/><circle cx="1906.3" cy="853.5" r="2.1"/></g>
<g fill="#000"><circle cx="1898.2" cy="839.8" r="2"/><circle cx="1898.2" cy="858.1" r="2"/></g></svg>
<div class="t" style="left:1554px;top:1059px;font-size:12px;color:#c6c9d0">服务热线：</div>
<div class="t" style="left:1618px;top:1059px;font-size:12px;color:#c6c9d0">010-84748984</div>
<div class="t" style="left:1729px;top:1059px;font-size:12px;color:#c6c9d0">版权所有 武汉光谷电气有限公司</div>
</body></html>
